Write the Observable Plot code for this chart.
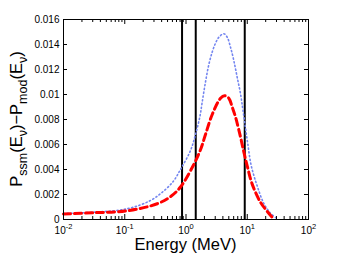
<!DOCTYPE html>
<html>
<head>
<meta charset="utf-8">
<script src="https://cdn.jsdelivr.net/npm/d3@7"></script>
<script src="https://cdn.jsdelivr.net/npm/@observablehq/plot@0.6"></script>
<style>
  html, body { margin: 0; padding: 0; background: white; }
  #chart { width: 341px; height: 257px; }
</style>
</head>
<body>
<div id="chart"></div>
<script>
// Blue dotted series (SSM)
const energyBlue = [0.01, 0.031, 0.11, 0.263, 0.437, 0.631, 0.813, 1.18, 1.43, 1.68, 1.84, 2.08, 2.36, 2.68, 3.03, 3.44, 4.14, 4.71, 5.33, 6.03, 6.85, 7.76, 8.59, 10.2, 11.6, 14.5, 18.6, 24.0, 30.9];
const probBlue   = [0.00048, 0.00058, 0.00086, 0.00152, 0.0023, 0.0031, 0.004, 0.0055, 0.0068, 0.0082, 0.0094, 0.0110, 0.0124, 0.0134, 0.0141, 0.01458, 0.01486, 0.01458, 0.01378, 0.01272, 0.01138, 0.01006, 0.00860, 0.00606, 0.00432, 0.00270, 0.00130, 0.00050, 0.00006];
// Red dashed series
const energyRed = [0.01, 0.031, 0.11, 0.339, 0.562, 0.813, 1.34, 1.73, 2.08, 2.68, 3.66, 4.26, 5.0, 5.68, 6.43, 7.76, 8.79, 9.98, 12.0, 16.4, 21.1, 26.9];
const probRed   = [0.00044, 0.00054, 0.0007, 0.00126, 0.00184, 0.0026, 0.0044, 0.0056, 0.0068, 0.0084, 0.0097, 0.0099, 0.0097, 0.009, 0.0082, 0.0066, 0.0054, 0.0043, 0.00285, 0.00139, 0.00066, 0.00005];
// Vertical reference lines (MeV)
const lineEnergies = [0.862, 1.442, 9.1];
// Tick values
const xMajorTicks = [0.01, 0.1, 1, 10, 100];
const xMinorTicks = [0.02,0.03,0.04,0.05,0.06,0.07,0.08,0.09, 0.2,0.3,0.4,0.5,0.6,0.7,0.8,0.9, 2,3,4,5,6,7,8,9, 20,30,40,50,60,70,80,90];
const xTickExponents = ["-2", "-1", "0", "1", "2"];
const yTicks = [0, 0.002, 0.004, 0.006, 0.008, 0.01, 0.012, 0.014, 0.016];
const yTickLabels = ["0", "0.002", "0.004", "0.006", "0.008", "0.01", "0.012", "0.014", "0.016"];
const xLabel = "Energy (MeV)";

const blue = energyBlue.map((e, i) => ({e, p: probBlue[i]}));
const red = energyRed.map((e, i) => ({e, p: probRed[i]}));

const W = 341, H = 257, mL = 63, mR = 33, mT = 19, mB = 38;
const pw = W - mL - mR, ph = H - mT - mB;

const plot = Plot.plot({
  width: W, height: H,
  marginLeft: mL, marginRight: mR, marginTop: mT, marginBottom: mB,
  style: {fontFamily: "'Liberation Sans', Arial, sans-serif", fontSize: "10px", background: "white", color: "black", overflow: "visible"},
  x: {type: "log", domain: [0.01, 100]},
  y: {domain: [0, 0.016]},
  marks: [
    Plot.ruleX(lineEnergies, {x: d => d, y1: 0, y2: 0.016, stroke: "black", strokeWidth: 2}),
    Plot.line(blue, {x: "e", y: "p", stroke: "#7385f0", strokeWidth: 1.6, strokeDasharray: "1.2,2.6", curve: "catmull-rom"}),
    Plot.line(red, {x: "e", y: "p", stroke: "#ff0000", strokeWidth: 3, strokeDasharray: "7,4", curve: "catmull-rom"}),
    Plot.frame({stroke: "black", strokeWidth: 1}),
    // major/minor tick marks pointing inward
    Plot.tickX(xMajorTicks, {x: d => d, insetTop: ph - 5, stroke: "black"}),
    Plot.tickX(xMajorTicks, {x: d => d, insetBottom: ph - 5, stroke: "black"}),
    Plot.tickX(xMinorTicks, {x: d => d, insetTop: ph - 3, stroke: "black"}),
    Plot.tickX(xMinorTicks, {x: d => d, insetBottom: ph - 3, stroke: "black"}),
    Plot.tickY(yTicks, {y: d => d, insetRight: pw - 4, stroke: "black"}),
    Plot.tickY(yTicks, {y: d => d, insetLeft: pw - 4, stroke: "black"}),
    Plot.axisX(xMajorTicks, {anchor: "bottom", tickSize: 0, tickPadding: 7, label: null,
      tickFormat: d => "10^" + xTickExponents[xMajorTicks.indexOf(d)]}),
    Plot.axisY(yTicks, {anchor: "left", tickSize: 0, tickPadding: 4, label: null,
      tickFormat: d => yTickLabels[yTicks.indexOf(d)]})
  ]
});

document.getElementById("chart").appendChild(plot);
const svg = d3.select(plot);

// superscript exponents on x tick labels
svg.selectAll('g[aria-label="x-axis tick label"] text').each(function() {
  const t = d3.select(this);
  const s = t.text();
  const exp = s.split("^")[1];
  t.text("");
  t.append("tspan").text("10");
  t.append("tspan").attr("dy", "-0.55em").style("font-size", "7.5px").text(exp);
});

// x-axis label
svg.append("text")
  .attr("x", mL + pw / 2).attr("y", 250)
  .attr("text-anchor", "middle")
  .style("font-size", "16.5px")
  .attr("fill", "black")
  .text(xLabel);

// y-axis label with subscripts
const yl = svg.append("text")
  .attr("transform", `translate(22,${mT + ph / 2}) rotate(-90)`)
  .attr("text-anchor", "middle")
  .style("font-size", "16.5px")
  .attr("fill", "black");
const parts = [["P", 0], ["ssm", 1], ["(E", 0], ["ν", 1], [")−P", 0], ["mod", 1], ["(E", 0], ["ν", 1], [")", 0]];
let prevSub = 0;
parts.forEach(([txt, sub]) => {
  const ts = yl.append("tspan").text(txt);
  if (sub && !prevSub) ts.attr("dy", 4.5).style("font-size", "12.5px");
  else if (!sub && prevSub) ts.attr("dy", -4.5);
  else if (sub) ts.style("font-size", "12.5px");
  prevSub = sub;
});
</script>
</body>
</html>
